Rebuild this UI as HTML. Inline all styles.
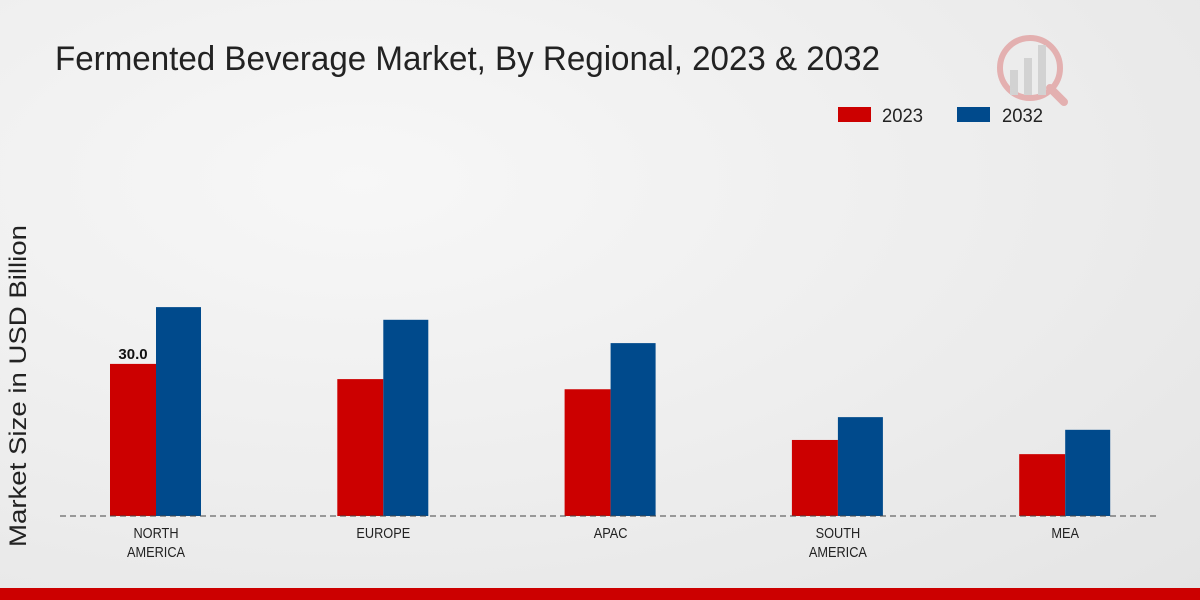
<!DOCTYPE html>
<html><head><meta charset="utf-8"><style>
body{margin:0;width:1200px;height:600px;overflow:hidden;font-family:"Liberation Sans Narrow","Liberation Sans",sans-serif;}
#bg{position:absolute;left:0;top:0;width:1200px;height:600px;background:radial-gradient(ellipse at 30% 30%,#f7f7f7 0%,#ececec 60%,#e4e4e4 100%);}
</style></head><body>
<div id="bg"></div>
<svg id="c" width="1200" height="600" style="position:absolute;left:0;top:0">
<text x="55" y="70" font-size="34" fill="#222" textLength="825" lengthAdjust="spacingAndGlyphs">Fermented Beverage Market, By Regional, 2023 &amp; 2032</text>
<text transform="translate(26,386) rotate(-90)" text-anchor="middle" font-family="Liberation Sans,sans-serif" font-size="24" textLength="322" lengthAdjust="spacingAndGlyphs" fill="#222">Market Size in USD Billion</text>
<g>
<rect x="838" y="107" width="33" height="15" fill="#cc0000"/>
<text x="882" y="122" font-size="19" fill="#222" textLength="41" lengthAdjust="spacingAndGlyphs">2023</text>
<rect x="957" y="107" width="33" height="15" fill="#004a8c"/>
<text x="1002" y="122" font-size="19" fill="#222" textLength="41" lengthAdjust="spacingAndGlyphs">2032</text>
</g>
<g opacity="0.25">
<circle cx="1030" cy="68" r="30" fill="none" stroke="#cc0000" stroke-width="6"/>
<rect x="1010" y="70" width="8" height="25" fill="#888"/>
<rect x="1024" y="58" width="8" height="37" fill="#888"/>
<rect x="1038" y="45" width="8" height="50" fill="#888"/>
<line x1="1050" y1="88" x2="1064" y2="102" stroke="#cc0000" stroke-width="8" stroke-linecap="round"/>
</g>
<g id="bars"></g>
<line x1="60" y1="516" x2="1160" y2="516" stroke="#444" stroke-dasharray="6,4"/>
<rect x="0" y="588" width="1200" height="12" fill="#cc0000"/>
</svg>
<script>
const categories=[["NORTH","AMERICA"],["EUROPE"],["APAC"],["SOUTH","AMERICA"],["MEA"]];
const values2023=[30.0,27.0,25.0,15.0,12.2];
const values2032=[41.2,38.7,34.1,19.5,17.0];
const labels2023=["30.0","","","",""];
const ns="http://www.w3.org/2000/svg";
const g=document.getElementById("bars");
const base=516, scale=5.07;
const xc=i=>156+i*227.3;
const y=v=>base-v*scale;
function mk(t,a){const e=document.createElementNS(ns,t);for(const k in a)e.setAttribute(k,a[k]);g.appendChild(e);return e;}
categories.forEach((c,i)=>{
 const r=mk("rect",{x:xc(i)-46,y:y(values2023[i]),width:46,height:base-y(values2023[i]),fill:"#cc0000"});
 
 
 const b=mk("rect",{x:xc(i),y:y(values2032[i]),width:45,height:base-y(values2032[i]),fill:"#004a8c"});
 
 
 if(labels2023[i]){const t=mk("text",{x:xc(i)-23,y:y(values2023[i])-5,"text-anchor":"middle","font-size":"15","font-weight":"bold","font-family":"Liberation Sans,sans-serif",fill:"#111"});t.textContent=labels2023[i];
 
 }
 c.forEach((ln,j)=>{const t=mk("text",{x:xc(i),y:538+j*19,"text-anchor":"middle","font-size":"15",fill:"#222",transform:`translate(${xc(i)*0.15},0) scale(0.85,1)`});t.textContent=ln;
 
 });
});
</script>
</body></html>
